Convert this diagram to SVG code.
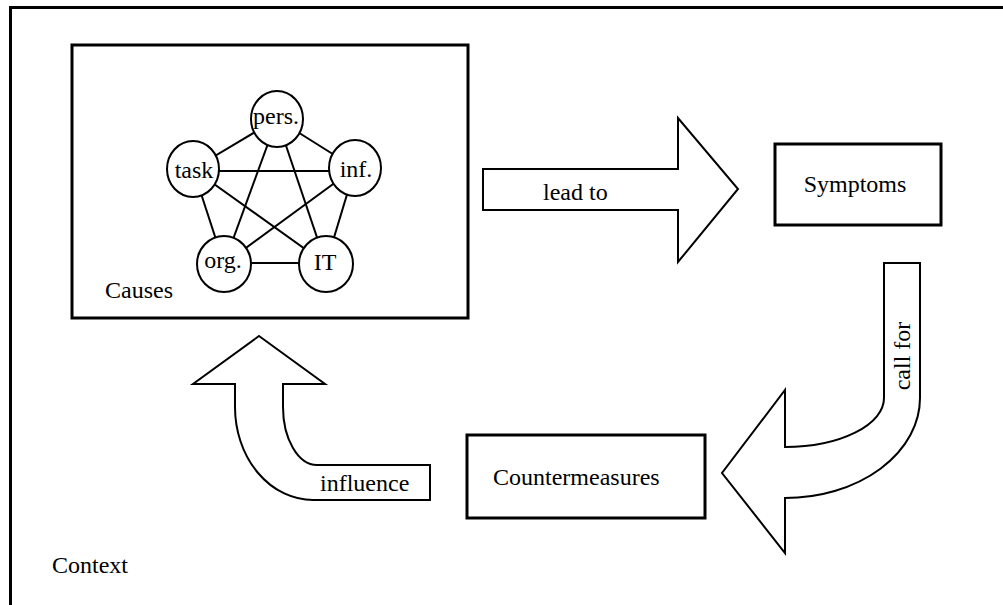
<svg xmlns="http://www.w3.org/2000/svg" width="1003" height="605" viewBox="0 0 1003 605">
<style>
.box{fill:#fff;stroke:#000;stroke-width:3}
.arrow{fill:#fff;stroke:#000;stroke-width:2;stroke-linejoin:miter}
.node{fill:#fff;stroke:#000;stroke-width:2}
.edge{stroke:#000;stroke-width:2}
text{font-family:"Liberation Serif","Times New Roman",serif;font-size:24px;fill:#000}
.mid{text-anchor:middle}
</style>
<rect width="1003" height="605" fill="#fff"/>
<g id="context">
<path d="M10.5 605 L10.5 7.5 L1003 7.5" fill="none" stroke="#000" stroke-width="3"/>
<text x="52" y="573">Context</text>
</g>
<g id="causes">
<rect class="box" x="72" y="45" width="396" height="273"/>
<text x="105" y="298">Causes</text>
</g>
<g id="connectors">
<line class="edge" x1="277" y1="119" x2="193" y2="169"/>
<line class="edge" x1="277" y1="119" x2="355" y2="168"/>
<line class="edge" x1="277" y1="119" x2="224" y2="264"/>
<line class="edge" x1="277" y1="119" x2="326" y2="264"/>
<line class="edge" x1="193" y1="171" x2="355" y2="171"/>
<line class="edge" x1="193" y1="169" x2="224" y2="264"/>
<line class="edge" x1="193" y1="169" x2="326" y2="264"/>
<line class="edge" x1="355" y1="168" x2="224" y2="264"/>
<line class="edge" x1="355" y1="168" x2="326" y2="264"/>
<line class="edge" x1="224" y1="263" x2="326" y2="263"/>
</g>
<g id="pers">
<ellipse class="node" cx="277" cy="119" rx="26" ry="28"/>
<text class="mid" x="276" y="124">pers.</text>
</g>
<g id="task">
<ellipse class="node" cx="193" cy="169" rx="26" ry="28"/>
<text class="mid" x="194" y="178">task</text>
</g>
<g id="inf">
<ellipse class="node" cx="355" cy="168" rx="26" ry="28"/>
<text class="mid" x="356" y="177">inf.</text>
</g>
<g id="org">
<ellipse class="node" cx="224" cy="264" rx="27" ry="28"/>
<text class="mid" x="223" y="268">org.</text>
</g>
<g id="it">
<ellipse class="node" cx="326" cy="264" rx="27" ry="28"/>
<text class="mid" x="325" y="270">IT</text>
</g>
<g id="lead-to">
<path class="arrow" d="M483 169 L678 169 L678 118 L738 189 L678 262 L678 210 L483 210 Z"/>
<text x="543" y="200">lead to</text>
</g>
<g id="symptoms">
<rect class="box" x="775" y="144" width="166" height="81"/>
<text class="mid" x="855" y="192">Symptoms</text>
</g>
<g id="call-for">
<path class="arrow" d="M884 263 L920 263 L920 398 A135 100 0 0 1 785 498 L785 553 L722 473 L785 390 L785 447 A99 49 0 0 0 884 398 Z"/>
<text class="mid" transform="translate(910 356) rotate(-90)" x="0" y="0">call for</text>
</g>
<g id="countermeasures">
<rect class="box" x="467" y="435" width="238" height="83"/>
<text x="493" y="485">Countermeasures</text>
</g>
<g id="influence">
<path class="arrow" d="M259 336 L325 384 L283 384 L283 407 A34 58 0 0 0 317 465 L430 465 L430 500 L313 500 A78 93 0 0 1 235 407 L235 384 L193 384 Z"/>
<text x="320" y="491">influence</text>
</g>
</svg>
